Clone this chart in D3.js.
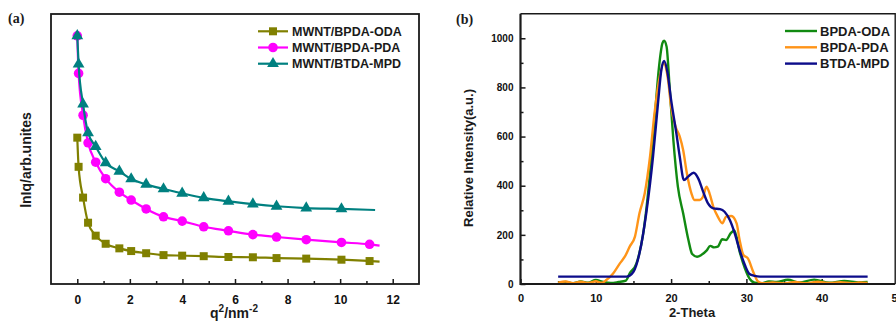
<!DOCTYPE html>
<html lang="en">
<head>
<meta charset="UTF-8">
<title>SAXS and WAXD curves</title>
<script src="https://d3js.org/d3.v7.min.js"></script>
<style>
  html, body { margin: 0; padding: 0; background: #fff; }
  svg { display: block; font-family: "Liberation Sans", Arial, sans-serif; }
  .tick text { font-weight: bold; fill: #111; }
</style>
</head>
<body>
<svg id="chart" width="896" height="322"></svg>
<script>
// ---- panel (a): lnI vs q^2 ----
const q2 = [0, 0.05, 0.22, 0.41, 0.70, 1.08, 1.6, 2.05, 2.62, 3.28, 3.99, 4.81, 5.75, 6.68, 7.58, 8.71, 10.05, 11.12];
const odaLn = [54.2, 43.4, 32.0, 22.7, 17.9, 14.9, 13.2, 12.2, 11.4, 10.7, 10.5, 10.3, 10.0, 9.9, 9.6, 9.4, 9.0, 8.5];
const pdaLn = [91.9, 78.0, 62.5, 52.3, 45.1, 39.0, 34.0, 31.1, 27.8, 24.9, 23.3, 21.2, 19.7, 18.3, 17.4, 16.4, 15.4, 14.7];
const mpdLn = [91.9, 81.4, 66.6, 56.0, 50.9, 44.9, 41.7, 38.9, 36.9, 35.2, 33.6, 31.9, 30.6, 29.6, 28.8, 28.1, 27.8];
// line continues a little past the last marker
const odaTail = [11.5, 8.3];
const pdaTail = [11.5, 14.2];
const mpdTail = [11.33, 27.4];
const seriesA = ["MWNT/BPDA-ODA", "MWNT/BPDA-PDA", "MWNT/BTDA-MPD"];
const ticksA = [0, 2, 4, 6, 8, 10, 12];
const minorA = [1, 3, 5, 7, 9, 11];

// ---- panel (b): XRD ----
const odaX = [5, 6, 7, 8, 9, 10, 11, 12, 13, 14, 14.5, 15.4, 16.3, 17.2, 17.8, 18.4, 18.85, 19.07, 19.4, 19.8, 20.3, 20.9, 21.6, 22.3, 22.8, 23.45, 24.0, 24.7, 25.2, 25.7, 26.2, 26.8, 27.3, 27.9, 28.4, 29.1, 29.8, 30.4, 31.1, 32, 33, 34, 35.5, 37, 39, 41, 43, 45, 46.1];
const odaY = [4, 8, 3, 10, 5, 16, 8, 4, 8, 14, 43, 84, 206, 450, 667, 885, 980, 990, 966, 803, 586, 396, 288, 179, 122, 111, 118, 136, 155, 149, 152, 182, 179, 206, 218, 132, 64, 23, 5, 3, 10, 8, 17, 6, 18, 5, 12, 6, 8];
const pdaX = [5, 6, 7, 8, 9, 10, 10.8, 11.4, 12.3, 13.2, 13.85, 14.5, 15.2, 15.8, 16.5, 17.2, 17.8, 18.5, 19.0, 19.6, 20.0, 20.6, 21.15, 21.6, 22.1, 22.7, 23.1, 23.8, 24.25, 24.7, 25.1, 25.6, 26.2, 26.8, 27.3, 28.0, 28.7, 29.1, 29.6, 30.2, 30.9, 31.5, 32.2, 33.5, 35, 36.5, 38, 39.5, 41, 42.5, 44, 45, 46.1];
const pdaY = [5, 10, 3, 9, 4, 11, 5, 16, 43, 84, 111, 152, 193, 288, 369, 518, 695, 844, 898, 830, 722, 640, 600, 545, 450, 369, 342, 342, 356, 396, 369, 315, 274, 247, 274, 277, 247, 179, 118, 104, 50, 12, 3, 6, 2, 8, 3, 9, 4, 7, 3, 6, 4];
const mpdX = [5, 14.1, 15, 15.8, 16.7, 17.6, 18.3, 18.7, 19.07, 19.5, 20.0, 20.7, 21.15, 21.7, 22.26, 23.0, 23.6, 24.25, 24.9, 25.6, 26.5, 27.1, 27.8, 28.45, 29.1, 29.8, 30.4, 31.1, 31.8, 46.1];
const mpdY = [30, 30, 50, 125, 288, 518, 749, 871, 908, 864, 749, 613, 518, 423, 437, 453, 430, 376, 328, 308, 305, 294, 260, 206, 138, 77, 41, 33, 30, 30];
const seriesB = ["BPDA-ODA", "BPDA-PDA", "BTDA-MPD"];
const ticksBx = [0, 10, 20, 30, 40, 50];
const minorBx = [5, 15, 25, 35, 45];
const ticksBy = [0, 200, 400, 600, 800, 1000];
const minorBy = [100, 300, 500, 700, 900];

const svg = d3.select("#chart");
const ink = "#1a1a1a";

// ================= panel (a) =================
const xA = d3.scaleLinear().domain([-1, 13]).range([51, 419]);
const yA = d3.scaleLinear().domain([0, 100]).range([284, 14]);
const gA = svg.append("g");

gA.append("g")
  .attr("transform", `translate(0,${yA.range()[0]})`)
  .call(d3.axisBottom(xA).tickValues(minorA).tickSize(-3).tickFormat(""))
  .call(g => g.select(".domain").remove())
  .call(g => g.selectAll("line").attr("stroke", ink).attr("stroke-width", 1.5));
gA.append("g")
  .attr("transform", `translate(0,${yA.range()[0]})`)
  .call(d3.axisBottom(xA).tickValues(ticksA).tickSize(-5).tickPadding(11))
  .call(g => g.select(".domain").remove())
  .call(g => g.selectAll("line").attr("stroke", ink).attr("stroke-width", 1.5))
  .call(g => g.selectAll("text").attr("font-size", 12));

gA.append("rect")
  .attr("x", xA.range()[0]).attr("y", yA.range()[1])
  .attr("width", xA.range()[1] - xA.range()[0])
  .attr("height", yA.range()[0] - yA.range()[1])
  .attr("fill", "none").attr("stroke", ink).attr("stroke-width", 1.8);

const colorsA = ["#808000", "#ff00ff", "#008080"];
const symA = [d3.symbolSquare, d3.symbolCircle, d3.symbolTriangle];
const sizeA = [64, 72, 60];
const dataA = [
  { ys: odaLn, tail: odaTail },
  { ys: pdaLn, tail: pdaTail },
  { ys: mpdLn, tail: mpdTail }
].map(s => {
  const pts = s.ys.map((v, i) => [q2[i], v]);
  return { marks: pts, line: pts.concat([s.tail]) };
});

const lineA = d3.line().x(d => xA(d[0])).y(d => yA(d[1])).curve(d3.curveMonotoneX);
dataA.forEach((s, k) => {
  gA.append("path").attr("d", lineA(s.line))
    .attr("fill", "none").attr("stroke", colorsA[k]).attr("stroke-width", 2.2);
  gA.selectAll(null).data(s.marks).enter().append("path")
    .attr("transform", d => `translate(${xA(d[0])},${yA(d[1])})`)
    .attr("d", d3.symbol().type(symA[k]).size(sizeA[k]))
    .attr("fill", colorsA[k]);
});

// legend (a)
seriesA.forEach((name, k) => {
  const cy = 31.3 + k * 16.2;
  gA.append("line").attr("x1", 258).attr("x2", 288).attr("y1", cy).attr("y2", cy)
    .attr("stroke", colorsA[k]).attr("stroke-width", 2.2);
  gA.append("path").attr("transform", `translate(273,${cy})`)
    .attr("d", d3.symbol().type(symA[k]).size(sizeA[k])).attr("fill", colorsA[k]);
  gA.append("text").attr("x", 292).attr("y", cy + 4.5)
    .attr("font-size", 12.5).attr("font-weight", "bold").attr("fill", ink).text(name);
});

gA.append("text").attr("transform", "translate(31,160) rotate(-90)")
  .attr("text-anchor", "middle").attr("font-size", 14).attr("font-weight", "bold")
  .attr("fill", ink).text("lnIq/arb.unites");

const xlabA = gA.append("text").attr("x", 234).attr("y", 318).attr("text-anchor", "middle")
  .attr("font-size", 14).attr("font-weight", "bold").attr("fill", ink);
xlabA.append("tspan").text("q");
xlabA.append("tspan").attr("dy", -6).attr("font-size", 10).text("2");
xlabA.append("tspan").attr("dy", 6).text("/nm");
xlabA.append("tspan").attr("dy", -6).attr("font-size", 10).text("-2");

gA.append("text").attr("x", 8).attr("y", 23)
  .attr("font-family", "'Liberation Serif', 'Times New Roman', serif")
  .attr("font-size", 14).attr("font-weight", "bold").attr("fill", ink).text("(a)");

// ================= panel (b) =================
const xB = d3.scaleLinear().domain([0, 50]).range([520.5, 897]);
const yB = d3.scaleLinear().domain([0, 1100]).range([284, 13.7]);
const gB = svg.append("g");

const bottomB = `translate(0,${yB.range()[0]})`;
gB.append("g").attr("transform", bottomB)
  .call(d3.axisBottom(xB).tickValues(minorBx).tickSize(-3).tickFormat(""))
  .call(g => g.select(".domain").remove())
  .call(g => g.selectAll("line").attr("stroke", ink).attr("stroke-width", 1.5));
gB.append("g").attr("transform", bottomB)
  .call(d3.axisBottom(xB).tickValues(ticksBx).tickSize(-5).tickPadding(10))
  .call(g => g.select(".domain").remove())
  .call(g => g.selectAll("line").attr("stroke", ink).attr("stroke-width", 1.5))
  .call(g => g.selectAll("text").attr("font-size", 11));

const leftB = `translate(${xB.range()[0]},0)`;
gB.append("g").attr("transform", leftB)
  .call(d3.axisLeft(yB).tickValues(minorBy).tickSize(-3).tickFormat(""))
  .call(g => g.select(".domain").remove())
  .call(g => g.selectAll("line").attr("stroke", ink).attr("stroke-width", 1.5));
gB.append("g").attr("transform", leftB)
  .call(d3.axisLeft(yB).tickValues(ticksBy).tickSize(-5).tickPadding(7).tickFormat(d3.format("d")))
  .call(g => g.select(".domain").remove())
  .call(g => g.selectAll("line").attr("stroke", ink).attr("stroke-width", 1.5))
  .call(g => g.selectAll("text").attr("font-size", 10));

const colorsB = ["#118a11", "#ff9418", "#0c0c8a"];
const dataB = [[odaX, odaY], [pdaX, pdaY], [mpdX, mpdY]];
const lineB = d3.line().x(d => xB(d[0])).y(d => yB(d[1])).curve(d3.curveMonotoneX);
dataB.forEach(([xs, ys], k) => {
  gB.append("path").attr("d", lineB(xs.map((x, i) => [x, ys[i]])))
    .attr("fill", "none").attr("stroke", colorsB[k]).attr("stroke-width", 2.4)
    .attr("stroke-linejoin", "round");
});

// frame: thick left/bottom, right edge sits just inside the window
const fx0 = xB.range()[0], fx1 = xB.range()[1] - 1.8;
gB.append("path")
  .attr("d", `M${fx0},${yB.range()[1]}V${yB.range()[0]}H${fx1}`)
  .attr("fill", "none").attr("stroke", ink).attr("stroke-width", 2.2);
gB.append("path")
  .attr("d", `M${fx0},${yB.range()[1]}H${fx1}V${yB.range()[0]}`)
  .attr("fill", "none").attr("stroke", ink).attr("stroke-width", 1.4);

seriesB.forEach((name, k) => {
  const cy = 31 + k * 16.3;
  gB.append("line").attr("x1", 785).attr("x2", 817).attr("y1", cy).attr("y2", cy)
    .attr("stroke", colorsB[k]).attr("stroke-width", 2.4);
  gB.append("text").attr("x", 820).attr("y", cy + 4.7)
    .attr("font-size", 13).attr("font-weight", "bold").attr("fill", ink).text(name);
});

gB.append("text").attr("transform", "translate(473,158) rotate(-90)")
  .attr("text-anchor", "middle").attr("font-size", 13).attr("font-weight", "bold")
  .attr("fill", ink).text("Relative Intensity(a.u.)");

gB.append("text").attr("x", 692).attr("y", 317).attr("text-anchor", "middle")
  .attr("font-size", 13).attr("font-weight", "bold").attr("fill", ink).text("2-Theta");

gB.append("text").attr("x", 456).attr("y", 24)
  .attr("font-family", "'Liberation Serif', 'Times New Roman', serif")
  .attr("font-size", 14).attr("font-weight", "bold").attr("fill", ink).text("(b)");
</script>
</body>
</html>
